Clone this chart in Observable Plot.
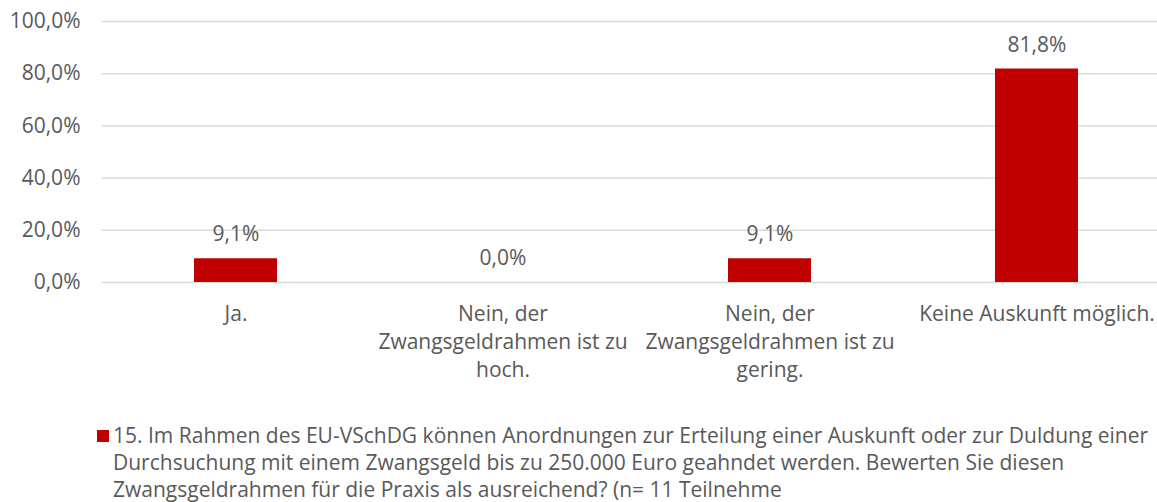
<!DOCTYPE html>
<html><head><meta charset="utf-8">
<script src="https://cdn.jsdelivr.net/npm/d3@7"></script>
<script src="https://cdn.jsdelivr.net/npm/@observablehq/plot@0.6"></script>
<style>
html,body{margin:0;padding:0;background:#fff;overflow:hidden;}
body{width:1157px;height:502px;position:relative;font-family:"Open Sans",sans-serif;}
#chart{position:absolute;left:0;top:0;}
#legend{position:absolute;left:97px;top:422px;color:#595959;font-size:21px;line-height:27px;font-family:"Open Sans",sans-serif;}
#legend .sw{display:inline-block;width:12px;height:12px;background:#c00000;margin-right:4px;vertical-align:1px;}
#legend .ln{white-space:nowrap;padding-left:16px;}
#legend .ln.first{padding-left:0;}
</style>
</head><body>
<div id="chart"></div>
<div id="legend"></div>
<script>
const categories = ["Ja.", "Nein, der\nZwangsgeldrahmen ist zu\nhoch.", "Nein, der\nZwangsgeldrahmen ist zu\ngering.", "Keine Auskunft möglich."];
const values = [0.091, 0.0, 0.091, 0.818];
const yTicks = [0, 0.2, 0.4, 0.6, 0.8, 1.0];
const seriesName = "15. Im Rahmen des EU-VSchDG können Anordnungen zur Erteilung einer Auskunft oder zur Duldung einer Durchsuchung mit einem Zwangsgeld bis zu 250.000 Euro geahndet werden. Bewerten Sie diesen Zwangsgeldrahmen für die Praxis als ausreichend? (n= 11 Teilnehme";
const legendLines = [
  "15. Im Rahmen des EU-VSchDG können Anordnungen zur Erteilung einer Auskunft oder zur Duldung einer",
  "Durchsuchung mit einem Zwangsgeld bis zu 250.000 Euro geahndet werden. Bewerten Sie diesen",
  "Zwangsgeldrahmen für die Praxis als ausreichend? (n= 11 Teilnehme"
];

const data = categories.map((c, i) => ({cat: c, value: values[i]}));
const pct = (v, d) => (v * 100).toFixed(d).replace(".", ",") + "%";

const textColor = "#595959";
const chart = Plot.plot({
  width: 1157,
  height: 400,
  marginLeft: 102,
  marginRight: 0,
  marginTop: 21,
  marginBottom: 118,
  style: {fontFamily: "Open Sans, sans-serif", fontSize: "21px", color: textColor, background: "#fff", overflow: "visible"},
  x: {domain: categories, range: [101.5, 1169.5], paddingInner: 0.69, paddingOuter: 0.345, axis: null},
  y: {domain: [0, 1], axis: null},
  marks: [
    Plot.ruleY(yTicks, {stroke: "#d9d9d9", strokeWidth: 1.5}),
    Plot.text(yTicks, {y: d => d, text: d => pct(d, 1), frameAnchor: "left", textAnchor: "end", dx: -22, fill: textColor, fontSize: 21}),
    Plot.barY(data, {x: "cat", y: "value", fill: "#c00000"}),
    Plot.text(data, {x: "cat", y: "value", text: d => pct(d.value, 1), dy: -24, fill: textColor, fontSize: 21}),
    Plot.text(data, {x: "cat", y: 0, text: "cat", lineAnchor: "top", dy: 18, lineHeight: 1.35, fill: textColor, fontSize: 21})
  ]
});
document.getElementById("chart").appendChild(chart);

const lg = document.getElementById("legend");
lg.setAttribute("title", seriesName);
legendLines.forEach((t, i) => {
  const div = document.createElement("div");
  div.className = "ln" + (i === 0 ? " first" : "");
  if (i === 0) {
    const sw = document.createElement("span");
    sw.className = "sw";
    div.appendChild(sw);
  }
  div.appendChild(document.createTextNode(t));
  lg.appendChild(div);
});
</script>
</body></html>
